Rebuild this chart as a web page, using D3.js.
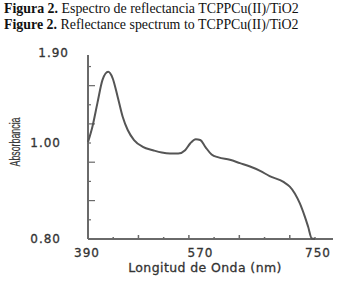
<!DOCTYPE html>
<html>
<head>
<meta charset="utf-8">
<script src="https://cdn.jsdelivr.net/npm/d3@7"></script>
<style>
	body { margin: 0; background: #fff; }
	svg { display: block; }
</style>
</head>
<body>
<svg id="chart" width="337" height="284"></svg>
<script>

//=================== DATA ====================================
var wavelength = [390, 397, 405, 413, 422, 429, 437, 445, 453, 463, 477, 493, 507, 520, 533,
	544, 552, 561, 568, 576, 586, 597, 615, 631, 647, 663, 678, 700, 710, 718, 726, 734, 739, 745, 750];
var absorbance = [1.01, 1.17, 1.42, 1.66, 1.745, 1.68, 1.485, 1.275, 1.136, 1.031, 0.992, 0.985, 0.980, 0.978, 0.978,
	0.985, 0.999, 1.039, 1.031, 0.992, 0.976, 0.970, 0.965, 0.958, 0.951, 0.942, 0.931, 0.919, 0.909, 0.895, 0.874, 0.846, 0.826, 0.801, 0.80];

var xTickLabels = [390, 570, 750];
var xMinorTicks = [430, 470, 510, 550, 590, 630, 670, 710, 750];
var yTickLabels = [0.80, 1.00, 1.90];
var yMinorTicks = [0.84, 0.88, 0.92, 0.96, 1.00, 1.20, 1.40, 1.60, 1.80];

var titleLines = [
	{ bold: "Figura 2.", rest: " Espectro de reflectancia TCPPCu(II)/TiO2" },
	{ bold: "Figure 2.", rest: " Reflectance spectrum to TCPPCu(II)/TiO2" }
];

//=================== PRIVATE VARIABLES ====================================
var axisColour = "#6a6a6a";
var lineColour = "#555555";
var labelFont = "'DejaVu Sans', Verdana, sans-serif";

var svg = d3.select("#chart");

var xScale = d3.scaleLinear()
	.domain([390, 750])
	.range([88, 315]);

// the original axis is not linear: 0.80-1.00 takes the lower half
var yScale = d3.scaleLinear()
	.domain([0.80, 1.00, 1.90])
	.range([239, 143, 57]);

//=================== TITLE ====================================
svg.selectAll("text.title")
	.data(titleLines)
	.enter()
	.append("text")
	.classed("title", true)
	.attr("x", 4)
	.attr("y", function (d, i) { return 12.5 + i * 16.5; })
	.style("font-family", "'Liberation Serif', 'DejaVu Serif', serif")
	.style("font-size", "13.9px")
	.style("fill", "#111")
	.each(function (d) {
		var t = d3.select(this);
		t.append("tspan").style("font-weight", "bold").text(d.bold);
		t.append("tspan").text(d.rest);
	});

//=================== AXES ====================================
var grp = svg.append("g");

// y axis
grp.append("line")
	.attr("x1", xScale(390)).attr("x2", xScale(390))
	.attr("y1", 55).attr("y2", yScale(0.80))
	.style("stroke", axisColour)
	.style("stroke-width", 2);

grp.selectAll("line.ytick")
	.data(yMinorTicks)
	.enter()
	.append("line")
	.classed("ytick", true)
	.attr("x1", xScale(390))
	.attr("x2", function (d, i) { return xScale(390) + (i % 2 == 1 ? 7 : 3); })
	.attr("y1", function (d) { return yScale(d); })
	.attr("y2", function (d) { return yScale(d); })
	.style("stroke", axisColour)
	.style("stroke-width", 1.2);

grp.selectAll("text.ylabel")
	.data(yTickLabels)
	.enter()
	.append("text")
	.classed("ylabel", true)
	.attr("x", function (d) { return d == 1.90 ? 69 : 61; })
	.attr("y", function (d) { return yScale(d) + (d == 1.90 ? -4 : 0); })
	.attr("dy", "0.36em")
	.attr("text-anchor", "end")
	.style("font-family", labelFont)
	.style("font-size", "12px")
	.style("letter-spacing", "1px")
	.style("stroke", "#333")
	.style("stroke-width", 0.3)
	.style("fill", "#333")
	.text(function (d) { return d.toFixed(2); });

// x axis
grp.append("line")
	.attr("x1", xScale(390)).attr("x2", 333)
	.attr("y1", yScale(0.80)).attr("y2", yScale(0.80))
	.style("stroke", axisColour)
	.style("stroke-width", 2);

grp.selectAll("line.xtick")
	.data(xMinorTicks)
	.enter()
	.append("line")
	.classed("xtick", true)
	.attr("x1", function (d) { return xScale(d); })
	.attr("x2", function (d) { return xScale(d); })
	.attr("y1", yScale(0.80))
	.attr("y2", function (d, i) { return yScale(0.80) - (i % 2 == 1 ? 4 : 2); })
	.style("stroke", axisColour)
	.style("stroke-width", 1.5);

grp.selectAll("text.xlabel")
	.data(xTickLabels)
	.enter()
	.append("text")
	.classed("xlabel", true)
	.attr("x", function (d) { return xScale(d) + (d == 750 ? 3 : -1); })
	.attr("y", 257)
	.attr("text-anchor", "middle")
	.style("font-family", labelFont)
	.style("font-size", "12px")
	.style("letter-spacing", "1px")
	.style("stroke", "#333")
	.style("stroke-width", 0.3)
	.style("fill", "#333")
	.text(function (d) { return d; });

svg.append("text")
	.attr("x", 205)
	.attr("y", 272)
	.attr("text-anchor", "middle")
	.style("font-family", labelFont)
	.style("font-size", "12.5px")
	.style("letter-spacing", "0.4px")
	.style("stroke", "#333")
	.style("stroke-width", 0.3)
	.style("fill", "#333")
	.text("Longitud de Onda (nm)");

svg.append("text")
	.attr("transform", "translate(20,142) rotate(-90)")
	.attr("text-anchor", "middle")
	.attr("textLength", 49)
	.attr("lengthAdjust", "spacingAndGlyphs")
	.style("font-family", "'Liberation Sans Narrow', 'Liberation Sans', sans-serif")
	.style("font-size", "15px")
	.style("stroke", "#333")
	.style("stroke-width", 0.2)
	.style("fill", "#333")
	.text("Absorbancia");

//=================== SPECTRUM LINE ====================================
var line = d3.line()
	.x(function (d) { return xScale(d[0]); })
	.y(function (d) { return yScale(d[1]); })
	.curve(d3.curveMonotoneX);

svg.append("path")
	.datum(d3.zip(wavelength, absorbance))
	.attr("d", line)
	.style("fill", "none")
	.style("stroke", lineColour)
	.style("stroke-width", 2);

</script>
</body>
</html>
